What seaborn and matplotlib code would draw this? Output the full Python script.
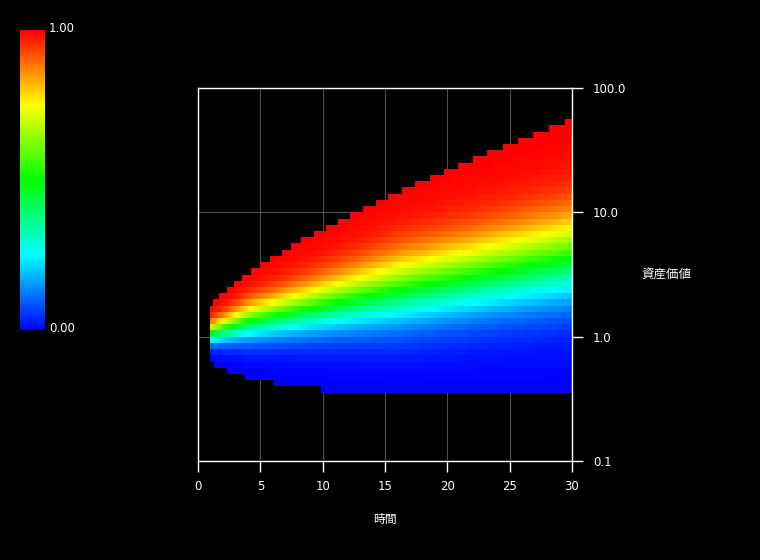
import math
import numpy as np
import pandas as pd
import matplotlib
matplotlib.use("Agg")
import matplotlib.pyplot as plt
import matplotlib.transforms as mtransforms
import seaborn as sns
from matplotlib.colors import LinearSegmentedColormap

# ---------------- data ----------------
time_ticks = [0, 5, 10, 15, 20, 25, 30]
time_tick_labels = ["0", "5", "10", "15", "20", "25", "30"]
value_ticks = [100.0, 10.0, 1.0, 0.1]
value_tick_labels = ["100.0", "10.0", "1.0", "0.1"]

# rows are 1/20 decade of asset value; an edge index k means value 10**(k/20)
# upper edge of the coloured region and the time at which it is reached
top_edge_row = list(range(5, 36))
top_edge_start = [0.95, 1.20, 1.68, 2.33, 2.90, 3.50, 4.25, 4.97, 5.77, 6.66,
                  7.46, 8.30, 9.30, 10.26, 11.23, 12.19, 13.23, 14.27, 15.24,
                  16.36, 17.40, 18.60, 19.73, 20.85, 22.05, 23.18, 24.46,
                  25.66, 26.86, 28.15, 29.43]
# lower edge of the coloured region and the time at which it is reached
bottom_edge_row = [-4, -5, -6, -7, -8, -9]
bottom_edge_start = [0.95, 1.28, 2.33, 3.77, 6.09, 9.86]

# probability levels (log asset value)
read_time = [1.0, 4.2, 16.2, 30.0]
read_median_ln = [0.06, 0.29, 0.87, 1.46]
read_spread_ln = [0.19, 0.34, 0.66, 0.82]

cbar_ticks = [0.0, 1.0]
cbar_tick_labels = ["0.00", "1.00"]
cmap_colors = ["#0000ff", "#00ffff", "#00ff00", "#ffff00", "#ff0000"]

x_label = "時間"
y_label = "資産価値"

# ---------------- build the grid ----------------
ROWS_PER_DECADE = 20
row_k = np.arange(39, -21, -1)           # top row first (heatmap order)
dt = 0.05
n_cols = int(round(30 / dt))
t_left = np.arange(n_cols) * dt
t_center = t_left + dt / 2

erf = np.frompyfunc(math.erf, 1, 1)
ln_center = (row_k + 0.5) / ROWS_PER_DECADE * math.log(10)

Z = np.full((len(row_k), n_cols), np.nan)
for j in range(n_cols):
    t = t_left[j] + 1e-6
    if t < bottom_edge_start[0]:
        continue
    ti = np.searchsorted(top_edge_start, t, side="right") - 1
    bi = np.searchsorted(bottom_edge_start, t, side="right") - 1
    k_top = top_edge_row[ti]
    k_bot = bottom_edge_row[bi]
    m = np.interp(t_center[j], read_time, read_median_ln)
    s = np.interp(t_center[j], read_time, read_spread_ln)
    z = (ln_center - m) / (s * math.sqrt(2))
    vals = 0.5 * (1 + erf(z).astype(float))
    vis = (row_k >= k_bot) & (row_k <= k_top - 1)
    Z[vis, j] = vals[vis]

df = pd.DataFrame(Z, index=row_k, columns=np.round(t_center, 3))

# ---------------- figure ----------------
plt.rcParams["font.family"] = ["DejaVu Sans", "Noto Sans CJK JP"]
plt.rcParams["axes.unicode_minus"] = False

W, H = 760, 560
fig = plt.figure(figsize=(W / 100, H / 100), dpi=100, facecolor="black")
ax = fig.add_axes([198 / W, (H - 461) / H, 374 / W, 373 / H])
cax = fig.add_axes([20 / W, (H - 330) / H, 25 / W, 300 / H])
ax.set_facecolor("black")
cax.set_facecolor("black")

cmap = LinearSegmentedColormap.from_list("bcgyr", cmap_colors)

sns.heatmap(df, ax=ax, cmap=cmap, vmin=0, vmax=1, cbar_ax=cax,
            xticklabels=False, yticklabels=False)

# axes styling
ax.set_axisbelow(True)
ax.set_xticks([t / dt for t in time_ticks])
ax.set_xticklabels(time_tick_labels, rotation=0)
ytick_pos = [(40 - ROWS_PER_DECADE * math.log10(v)) for v in value_ticks]
ax.set_yticks(ytick_pos)
ax.set_yticklabels(value_tick_labels, rotation=0)
ax.yaxis.tick_right()
ax.tick_params(axis="x", colors="white", labelsize=8.5, length=8, width=1,
               direction="out", pad=6, bottom=True, top=False)
ax.tick_params(axis="y", colors="white", labelsize=8.5, length=8, width=1,
               direction="out", pad=7, right=True, left=False)
ax.grid(True, color="#505050", linewidth=0.8)
for sp in ax.spines.values():
    sp.set_visible(True)
    sp.set_color("white")
    sp.set_linewidth(1.0)

ax.set_xlabel(x_label, color="white", fontsize=8.5, va="center")
ax.xaxis.set_label_coords(0.5, (461 - 519) / 373)
ax.yaxis.set_label_position("right")
ax.set_ylabel(y_label, color="white", fontsize=9, rotation=0,
              va="center", ha="center")
ax.yaxis.set_label_coords((666 - 198) / 374, 0.5)

# colorbar styling
cbar = ax.collections[0].colorbar
cbar.set_ticks(cbar_ticks)
cbar.set_ticklabels(cbar_tick_labels)
cbar.outline.set_visible(False)
cax.tick_params(colors="white", length=0, labelsize=8.5, pad=3)
shift = mtransforms.ScaledTranslation(0, 2.5 / 100, fig.dpi_scale_trans)
for lab in cax.get_yticklabels():
    lab.set_transform(lab.get_transform() + shift)

fig.savefig("out.png", dpi=100, facecolor="black")
